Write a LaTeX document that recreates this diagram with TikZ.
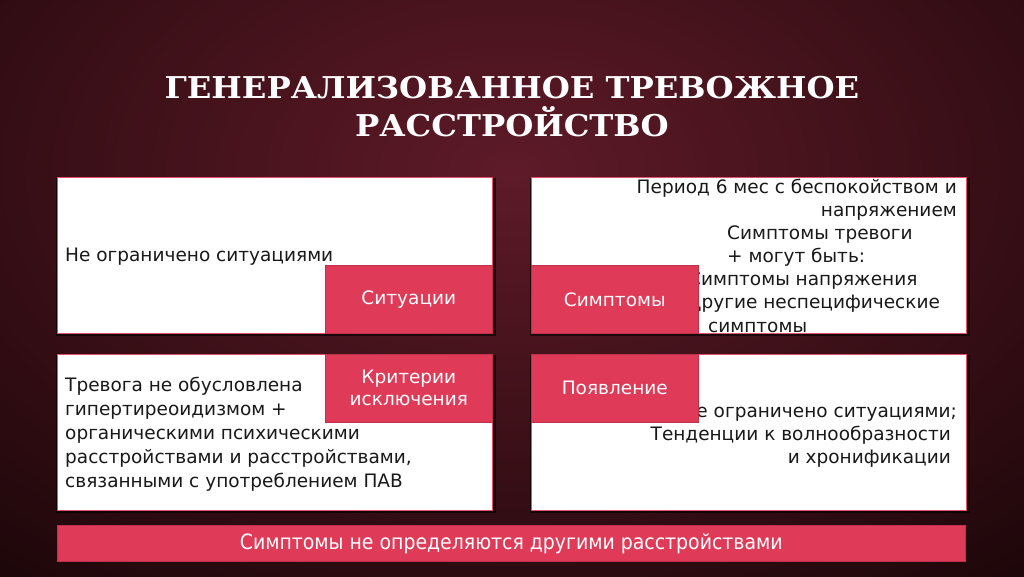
\documentclass[tikz,border=0pt]{standalone}
\usepackage{fontspec}
\setmainfont{DejaVu Sans}
\newfontfamily\titlefont{DejaVu Serif}[FakeStretch=1.075]
\newfontfamily\condfont{DejaVu Sans Condensed}
\usetikzlibrary{
	positioning		% relative placement
	, calc
	, shadows
}

\definecolor{bgin}{HTML}{5E1A28}
\definecolor{bgout}{HTML}{140405}
\definecolor{tagred}{HTML}{DF3A57}
\definecolor{rimred}{HTML}{E4506C}

\begin{document}
\begin{tikzpicture}[x=1pt, y=-1pt,
			panel/.style={
				rectangle,
				draw=rimred, line width=1.4pt,
				fill=white,
				anchor=north west,
				minimum width=435pt,
				minimum height=156pt,
				inner sep=0pt,
				drop shadow={opacity=0.6, fill=black, shadow xshift=0.5pt, shadow yshift=-1.5pt, shadow scale=1.012}
			},
			tag/.style={
				rectangle,
				fill=tagred,
				draw=tagred!85!black, line width=0.6pt,
				anchor=north west,
				minimum width=167pt,
				minimum height=68pt,
				text=white,
				align=center,
				font=\fontsize{18.5}{22}\selectfont
			},
			body/.style={
				inner sep=0pt,
				text=black!90,
				font=\fontsize{18.5}{23.5}\selectfont
			},
			heading/.style={
				text=white,
				align=center,
				inner sep=0pt,
				font=\titlefont\bfseries\fontsize{30}{38}\selectfont
			}]

			\useasboundingbox (0,0) rectangle (1024,576);

			%%% Background
			\fill[bgout] (0,0) rectangle (1024,576);
			\begin{scope}
				\clip (0,0) rectangle (1024,576);
				\shade[inner color=bgin, outer color=bgout] (-420,-420) rectangle (1444,760);
			\end{scope}

			%%% Title
			\node [heading] (title) at (512,107) {ГЕНЕРАЛИЗОВАННОЕ ТРЕВОЖНОЕ\\РАССТРОЙСТВО};

			%%% The four panels
			\node [panel] (situation) at (57,177) {};
			\node [panel] (symptom) at (531,177) {};
			\node [panel] (exclusion) at (57,354) {};
			\node [panel] (onset) at (531,354) {};

			% Panel texts
			\node [body, anchor=base west] (situationText) at (65,261) {Не ограничено ситуациями};

			\node [body, anchor=base east] (periodA) at (957,193) {Период 6 мес с беспокойством и};
			\node [body, anchor=base east] (periodB) at (957,216) {напряжением};
			\foreach [count=\i] \px/\py/\txt in {727/239/Симптомы тревоги, 727/262/+ могут быть:, 688/285/Симптомы напряжения, 687/308/Другие неспецифические, 708/332/симптомы} {
				\node [body, anchor=base west] (symLine\i) at (\px,\py) {\txt};
			};

			\foreach [count=\i] \txt in {Тревога не обусловлена, гипертиреоидизмом +, органическими психическими, {расстройствами и расстройствами,}, связанными с употреблением ПАВ} {
				\node [body, anchor=base west] (exLine\i) at (65,{367+24*\i}) {\txt};
			};

			\node [body, anchor=base east] (onsetA) at (957,417) {Не ограничено ситуациями;};
			\node [body, anchor=base east] (onsetB) at (951,440) {Тенденции к волнообразности};
			\node [body, anchor=base east] (onsetC) at (951,463) {и хронификации};

			%%% Red tags on the panel corners
			\node [tag] (tagSituation) at (325,265) {Ситуации};
			\node [tag] (tagSymptom) at (531,265) {Симптомы};
			\node [tag] (tagExclusion) at (325,354) {Критерии\\исключения};
			\node [tag] (tagOnset) at (531,354) {Появление};

			%%% Bottom bar
			\node [tag, minimum width=908pt, minimum height=36pt, font=\condfont\fontsize{21}{24}\selectfont] (footer) at (57,525) {Симптомы не определяются другими расстройствами};

		\end{tikzpicture}
\end{document}
